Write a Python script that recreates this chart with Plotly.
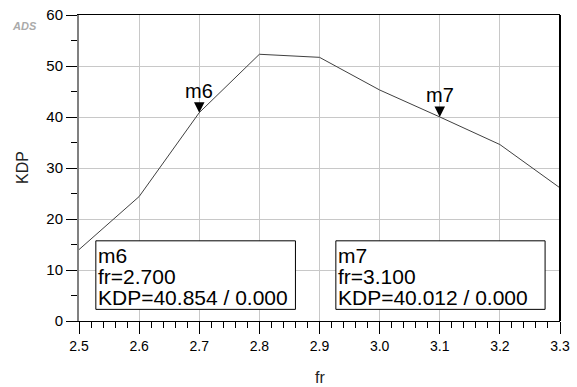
import plotly.graph_objects as go

# Data
fr = [2.5, 2.6, 2.7, 2.8, 2.9, 3.0, 3.1, 3.2, 3.3]
kdp = [14.0, 24.4, 40.854, 52.3, 51.7, 45.3, 40.012, 34.6, 26.1]

marker_names = ["m6", "m7"]
marker_fr = [2.7, 3.1]
marker_kdp = [40.854, 40.012]

x_ticks = [2.5, 2.6, 2.7, 2.8, 2.9, 3.0, 3.1, 3.2, 3.3]
x_ticklabels = ["2.5", "2.6", "2.7", "2.8", "2.9", "3.0", "3.1", "3.2", "3.3"]
y_ticks = [0, 10, 20, 30, 40, 50, 60]

FONT = "Liberation Sans, Arial, sans-serif"

fig = go.Figure()
fig.add_trace(go.Scatter(x=fr, y=kdp, mode="lines",
                         line=dict(color="#404040", width=1),
                         showlegend=False, hoverinfo="skip"))

annotations = []
# marker triangles + labels
for name, mx, my in zip(marker_names, marker_fr, marker_kdp):
    annotations.append(dict(x=mx, y=my, xref="x", yref="y", text=name,
                            showarrow=True, arrowhead=2, arrowsize=2.1,
                            arrowwidth=1, arrowcolor="black", standoff=0,
                            ax=0, ay=-22, font=dict(family=FONT, size=20, color="black")))

# marker readout boxes (paper coords)
box_x0 = [0.035, 0.534]
box_x1 = [0.450, 0.969]
box_y0 = 0.038
box_y1 = 0.262
line_y = [0.214, 0.146, 0.077]
shapes = []
for i, (name, mx, my) in enumerate(zip(marker_names, marker_fr, marker_kdp)):
    shapes.append(dict(type="rect", xref="paper", yref="paper",
                       x0=box_x0[i], x1=box_x1[i], y0=box_y0, y1=box_y1,
                       line=dict(color="black", width=1), fillcolor="white", layer="above"))
    texts = [name, f"fr={mx:.3f}", f"KDP={my:.3f} / 0.000"]
    for t, ly in zip(texts, line_y):
        annotations.append(dict(x=box_x0[i], y=ly, xref="paper", yref="paper",
                                text=t, showarrow=False, xanchor="left", yanchor="middle",
                                xshift=0, font=dict(family=FONT, size=21, color="black")))

# right border
shapes.append(dict(type="line", xref="paper", yref="paper", x0=1, x1=1, y0=0, y1=1,
                   line=dict(color="black", width=2)))

# axis titles
annotations.append(dict(x=0, y=0.5, xref="paper", yref="paper", text="KDP",
                        textangle=-90, showarrow=False, xanchor="center", yanchor="middle",
                        xshift=-57, font=dict(family=FONT, size=16, color="#222")))
annotations.append(dict(x=0.5, y=0, xref="paper", yref="paper", text="fr",
                        showarrow=False, xanchor="center", yanchor="middle",
                        yshift=-56, font=dict(family=FONT, size=16, color="#222")))
# logo
annotations.append(dict(x=0, y=1, xref="paper", yref="paper", text="<i><b>ADS</b></i>",
                        showarrow=False, xanchor="center", yanchor="middle",
                        xshift=-55, yshift=-11, font=dict(family=FONT, size=11, color="#aaaaaa")))

fig.update_layout(
    width=577, height=387,
    margin=dict(l=79, r=17, t=15, b=66),
    paper_bgcolor="white", plot_bgcolor="white",
    font=dict(family=FONT, color="black"),
    annotations=annotations, shapes=shapes,
    xaxis=dict(range=[2.5, 3.3], tickvals=x_ticks, ticktext=x_ticklabels,
               showgrid=True, gridcolor="#c8c8c8", gridwidth=1,
               showline=True, linecolor="black", linewidth=1, mirror=True,
               ticks="outside", ticklen=12, tickcolor="black", tickwidth=1,
               minor=dict(dtick=0.02, tick0=2.5, ticks="outside", ticklen=6,
                          tickcolor="black", tickwidth=1, showgrid=False),
               tickfont=dict(size=14, family=FONT), zeroline=False, automargin=False),
    yaxis=dict(range=[0, 60], tickvals=y_ticks,
               showgrid=True, gridcolor="#c8c8c8", gridwidth=1,
               showline=True, linecolor="#808080", linewidth=2,
               ticks="outside", ticklen=11, tickcolor="black", tickwidth=1,
               minor=dict(dtick=5, tick0=0, ticks="outside", ticklen=6,
                          tickcolor="black", tickwidth=1, showgrid=False),
               tickfont=dict(size=15, family=FONT), zeroline=False, automargin=False),
)

fig.write_html("out.html", config={"displayModeBar": False},
               post_script="document.body.style.margin='0';document.body.style.padding='0';document.body.style.overflow='hidden';")
